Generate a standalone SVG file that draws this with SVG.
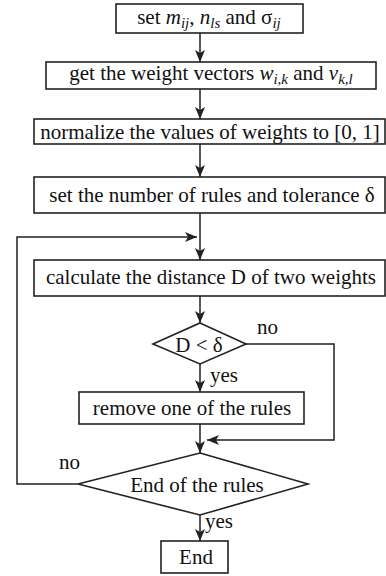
<svg xmlns="http://www.w3.org/2000/svg" width="386" height="576" viewBox="0 0 386 576">
<defs>
<marker id="ah" viewBox="0 0 12 10" refX="12" refY="5" markerWidth="12" markerHeight="10" markerUnits="userSpaceOnUse" orient="auto">
<path d="M0,0 L12,5 L0,10 L3,5 Z" fill="#222"/>
</marker>
<style>
.box{fill:#fff;stroke:#222;stroke-width:1.6}
.ln{fill:none;stroke:#222;stroke-width:1.5}
.t{font-family:"Liberation Serif","Times New Roman",serif;font-size:21px;fill:#111;text-anchor:middle}
.l{font-family:"Liberation Serif","Times New Roman",serif;font-size:21px;fill:#111}
.i{font-style:italic}
.s{font-style:italic;font-size:15px}
</style>
</defs>
<rect width="386" height="576" fill="#fff"/>
<g id="connectors">
<line class="ln" x1="200" y1="33" x2="200" y2="62" marker-end="url(#ah)"/>
<line class="ln" x1="200" y1="89" x2="200" y2="119" marker-end="url(#ah)"/>
<line class="ln" x1="200" y1="144" x2="200" y2="177" marker-end="url(#ah)"/>
<line class="ln" x1="200" y1="213" x2="200" y2="260" marker-end="url(#ah)"/>
<polyline class="ln" points="78,484 17,484 17,237 197,237" marker-end="url(#ah)"/>
<line class="ln" x1="200" y1="296" x2="200" y2="323" marker-end="url(#ah)"/>
<polyline class="ln" points="246,344 334,344 334,440 207,440" marker-end="url(#ah)"/>
<line class="ln" x1="200" y1="364" x2="200" y2="392" marker-end="url(#ah)"/>
<line class="ln" x1="200" y1="424" x2="200" y2="453" marker-end="url(#ah)"/>
<line class="ln" x1="200" y1="515" x2="200" y2="541" marker-end="url(#ah)"/>
<text class="l" x="257" y="334">no</text>
<text class="l" x="210" y="382">yes</text>
<text class="l" x="59" y="469">no</text>
<text class="l" x="205" y="528">yes</text>
</g>
<g id="n1">
<rect class="box" x="116" y="4" width="187" height="29"/>
<text class="t" x="209" y="24">set <tspan class="i">m</tspan><tspan class="s" dy="4">ij</tspan><tspan dy="-4">, </tspan><tspan class="i">n</tspan><tspan class="s" dy="4">ls</tspan><tspan dy="-4"> and σ</tspan><tspan class="s" dy="4">ij</tspan></text>
</g>
<g id="n2">
<rect class="box" x="46" y="62" width="330" height="27"/>
<text class="t" x="211" y="80">get the weight vectors <tspan class="i">w</tspan><tspan class="s" dy="4">i,k</tspan><tspan dy="-4"> and </tspan><tspan class="i">v</tspan><tspan class="s" dy="4">k,l</tspan></text>
</g>
<g id="n3">
<rect class="box" x="34" y="119" width="351" height="25"/>
<text class="t" x="210" y="139">normalize the values of weights to [0, 1]</text>
</g>
<g id="n4">
<rect class="box" x="34" y="177" width="351" height="36"/>
<text class="t" x="212" y="202">set the number of rules and tolerance δ</text>
</g>
<g id="n5">
<rect class="box" x="34" y="260" width="351" height="36"/>
<text class="t" x="211" y="284">calculate the distance D of two weights</text>
</g>
<g id="n6">
<polygon class="box" points="200,323 246,344 200,364 153,344"/>
<text class="t" x="199" y="352">D &lt; δ</text>
</g>
<g id="n7">
<rect class="box" x="79" y="392" width="225" height="32"/>
<text class="t" x="192" y="415">remove one of the rules</text>
</g>
<g id="n8">
<polygon class="box" points="200,453 308,484 200,515 78,484"/>
<text class="t" x="197" y="492">End of the rules</text>
</g>
<g id="n9">
<rect class="box" x="161" y="541" width="67" height="32"/>
<text class="t" x="196" y="564">End</text>
</g>
</svg>
